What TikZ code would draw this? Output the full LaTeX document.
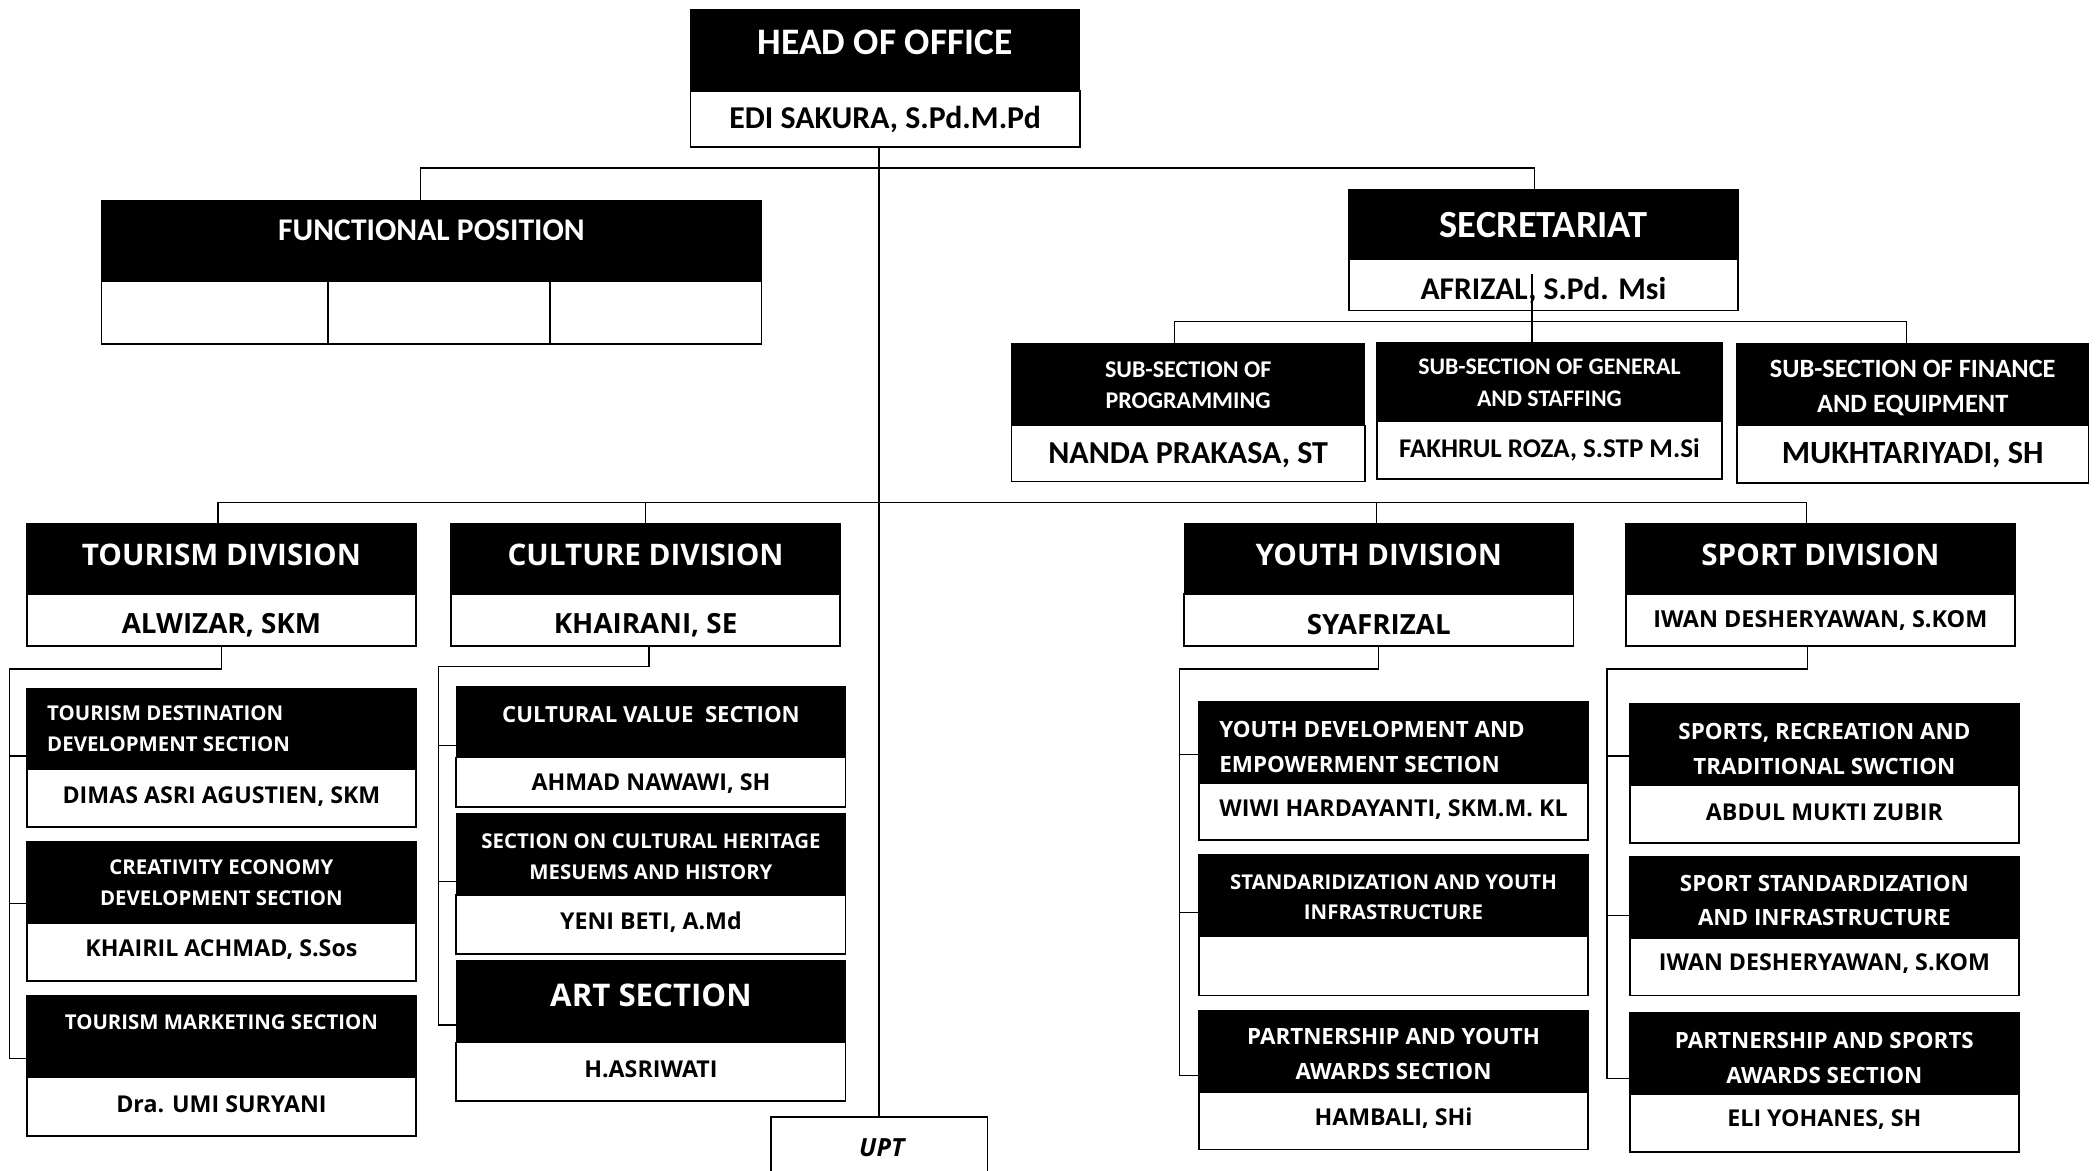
\documentclass[tikz,border=0pt]{standalone}
\usepackage{fontspec}
\setmainfont{Open Sans}
\newfontfamily\cbf{Carlito}
\newfontfamily\osf{Open Sans}
\usetikzlibrary{fit,calc}
\newcommand\fz[2]{\fontsize{#1}{#2}\selectfont}
\begin{document}
\begin{tikzpicture}[x=0.669pt,y=-0.669pt,
 blk/.style={draw=black,fill=black,inner sep=0pt,line width=0.6pt},
 wht/.style={draw=black,fill=white,inner sep=0pt,line width=0.8pt},
 ln/.style={draw=black,line width=0.6pt},
 hd/.style={text=white,inner sep=0pt,align=center},
 nm/.style={text=black,inner sep=0pt,align=center},
 dvT/.style={hd,font=\osf\bfseries\fz{14.85}{17}},
 dvN/.style={nm,font=\osf\bfseries\fz{13.9}{16}},
 scT/.style={hd,font=\osf\bfseries\fz{10.2}{15.4}},
 scTb/.style={hd,font=\osf\bfseries\fz{11.2}{17.4}},
 scN/.style={nm,font=\osf\bfseries\fz{11.6}{14}}]
\useasboundingbox (0,0) rectangle (1568,875);
\clip (0,0) rectangle (1568,875);
% ---- head
\node[blk,fit={(516,7)(807,68)}] (headB) {};
\node[wht,fit={(516,68)(807,110)}] (headW) {};
\node[hd,font=\cbf\bfseries\fz{18.7}{22}] (headT) at (661.5,32) {HEAD OF OFFICE};
\node[nm,font=\cbf\bfseries\fz{15.9}{18}] (headN) at (661.5,89) {EDI SAKURA, S.Pd.M.Pd};
% ---- functional
\node[blk,fit={(76,150)(569,210)}] (funcB) {};
\node[wht,fit={(76,210)(245,257)}] (funcC1) {};
\node[wht,fit={(245,210)(411,257)}] (funcC2) {};
\node[wht,fit={(411,210)(569,257)}] (funcC3) {};
\node[hd,font=\cbf\bfseries\fz{15.8}{18}] (funcT) at (322.5,172) {FUNCTIONAL POSITION};
% ---- secretariat
\node[blk,fit={(1008,142)(1299,194)}] (secB) {};
\node[wht,fit={(1008,194)(1299,232)}] (secW) {};
\node[hd,font=\cbf\bfseries\fz{19.2}{22}] (secT) at (1153.5,168) {SECRETARIAT};
\node[nm,font=\cbf\bfseries\fz{15.8}{18}] (secN) at (1153.5,217) {AFRIZAL, S.Pd. Msi};
% ---- sub-sections
\node[blk,fit={(756,257)(1020,318)}] (progB) {};
\node[wht,fit={(756,318)(1020,360)}] (progW) {};
\node[hd,font=\cbf\bfseries\fz{12}{15.5}] (progT) at (888,288) {SUB-SECTION OF\\PROGRAMMING};
\node[nm,font=\cbf\bfseries\fz{16}{18}] (progN) at (888,340) {NANDA PRAKASA, ST};
\node[blk,fit={(1029,256)(1287,315)}] (genB) {};
\node[wht,fit={(1029,315)(1287,358)}] (genW) {};
\node[hd,font=\cbf\bfseries\fz{11.9}{16.2}] (genT) at (1158,286) {SUB-SECTION OF GENERAL\\AND STAFFING};
\node[nm,font=\cbf\bfseries\fz{13.5}{16}] (genN) at (1158,336) {FAKHRUL ROZA, S.STP M.Si};
\node[blk,fit={(1298,257)(1561,318)}] (finB) {};
\node[wht,fit={(1298,318)(1561,361)}] (finW) {};
\node[hd,font=\cbf\bfseries\fz{13.2}{17.4}] (finT) at (1429.5,290) {SUB-SECTION OF FINANCE\\AND EQUIPMENT};
\node[nm,font=\cbf\bfseries\fz{16.2}{18}] (finN) at (1429.5,340) {MUKHTARIYADI, SH};
% ---- divisions
\node[blk,fit={(20,391)(311,444)}] (tourB) {};
\node[wht,fit={(20,444)(311,483)}] (tourW) {};
\node[dvT] (tourT) at (165.5,415) {TOURISM DIVISION};
\node[dvN] (tourN) at (165.5,467) {ALWIZAR, SKM};
\node[blk,fit={(337,391)(628,444)}] (cultB) {};
\node[wht,fit={(337,444)(628,483)}] (cultW) {};
\node[dvT] (cultT) at (482.5,415) {CULTURE DIVISION};
\node[dvN] (cultN) at (482.5,467) {KHAIRANI, SE};
\node[blk,fit={(885,391)(1176,444)}] (youthB) {};
\node[wht,fit={(885,444)(1176,483)}] (youthW) {};
\node[dvT] (youthT) at (1030.5,415) {YOUTH DIVISION};
\node[dvN] (youthN) at (1030.5,467) {SYAFRIZAL};
\node[blk,fit={(1215,391)(1506,444)}] (sportB) {};
\node[wht,fit={(1215,444)(1506,483)}] (sportW) {};
\node[dvT] (sportT) at (1360.5,415) {SPORT DIVISION};
\node[nm,font=\osf\bfseries\fz{11.7}{14}] (sportN) at (1360.5,464) {IWAN DESHERYAWAN, S.KOM};
% ---- tourism sections
\node[blk,fit={(20,515)(311,575)}] (ts1B) {};
\node[wht,fit={(20,575)(311,618)}] (ts1W) {};
\node[scT,align=left,anchor=west] (ts1T) at (35,544.5) {TOURISM DESTINATION\\DEVELOPMENT SECTION};
\node[scN] (ts1N) at (165.5,595) {DIMAS ASRI AGUSTIEN, SKM};
\node[blk,fit={(20,629)(311,690)}] (ts2B) {};
\node[wht,fit={(20,690)(311,733)}] (ts2W) {};
\node[scT] (ts2T) at (165.5,659.5) {CREATIVITY ECONOMY\\DEVELOPMENT SECTION};
\node[scN] (ts2N) at (165.5,710) {KHAIRIL ACHMAD, S.Sos};
\node[blk,fit={(20,744)(311,805)}] (ts3B) {};
\node[wht,fit={(20,805)(311,849)}] (ts3W) {};
\node[scT] (ts3T) at (165.5,764) {TOURISM MARKETING SECTION};
\node[scN] (ts3N) at (165.5,825) {Dra. UMI SURYANI};
% ---- culture sections
\node[blk,fit={(341,513)(632,566)}] (cs1B) {};
\node[wht,fit={(341,566)(632,603)}] (cs1W) {};
\node[hd,font=\osf\bfseries\fz{11.1}{14}] (cs1T) at (486.5,534) {CULTURAL VALUE\ \ SECTION};
\node[scN] (cs1N) at (486.5,586) {AHMAD NAWAWI, SH};
\node[blk,fit={(341,608)(632,669)}] (cs2B) {};
\node[wht,fit={(341,669)(632,713)}] (cs2W) {};
\node[scT] (cs2T) at (486.5,640.5) {SECTION ON CULTURAL HERITAGE\\MESUEMS AND HISTORY};
\node[scN] (cs2N) at (486.5,689) {YENI BETI, A.Md};
\node[blk,fit={(341,718)(632,779)}] (cs3B) {};
\node[wht,fit={(341,779)(632,823)}] (cs3W) {};
\node[hd,font=\osf\bfseries\fz{15.6}{18}] (cs3T) at (486.5,744) {ART SECTION};
\node[scN] (cs3N) at (486.5,799) {H.ASRIWATI};
% ---- UPT
\node[wht,fit={(576,835)(738,900)}] (upt) {};
\node[nm,font=\osf\bfseries\itshape\fz{12.5}{15}] (uptT) at (659,858) {UPT};
% ---- youth sections
\node[blk,fit={(896,524)(1187,585)}] (ys1B) {};
\node[wht,fit={(896,585)(1187,628)}] (ys1W) {};
\node[scTb,align=left,anchor=west] (ys1T) at (911,558) {YOUTH DEVELOPMENT AND\\EMPOWERMENT SECTION};
\node[scN] (ys1N) at (1041.5,605) {WIWI HARDAYANTI, SKM.M. KL};
\node[blk,fit={(896,639)(1187,700)}] (ys2B) {};
\node[wht,fit={(896,700)(1187,744)}] (ys2W) {};
\node[scT] (ys2T) at (1041.5,670.5) {STANDARIDIZATION AND YOUTH\\INFRASTRUCTURE};
\node[blk,fit={(896,755)(1187,816)}] (ys3B) {};
\node[wht,fit={(896,816)(1187,859)}] (ys3W) {};
\node[scTb] (ys3T) at (1041.5,788) {PARTNERSHIP AND YOUTH\\AWARDS SECTION};
\node[scN] (ys3N) at (1041.5,836) {HAMBALI, SHi};
% ---- sport sections
\node[blk,fit={(1218,526)(1509,587)}] (ss1B) {};
\node[wht,fit={(1218,587)(1509,630)}] (ss1W) {};
\node[scTb] (ss1T) at (1363.5,560) {SPORTS, RECREATION AND\\TRADITIONAL SWCTION};
\node[scN] (ss1N) at (1363.5,607) {ABDUL MUKTI ZUBIR};
\node[blk,fit={(1218,640)(1509,701)}] (ss2B) {};
\node[wht,fit={(1218,701)(1509,744)}] (ss2W) {};
\node[scTb] (ss2T) at (1363.5,673) {SPORT STANDARDIZATION\\AND INFRASTRUCTURE};
\node[scN] (ss2N) at (1363.5,720) {IWAN DESHERYAWAN, S.KOM};
\node[blk,fit={(1218,757)(1509,818)}] (ss3B) {};
\node[wht,fit={(1218,818)(1509,861)}] (ss3W) {};
\node[scTb] (ss3T) at (1363.5,790.5) {PARTNERSHIP AND SPORTS\\AWARDS SECTION};
\node[scN] (ss3N) at (1363.5,837) {ELI YOHANES, SH};
% ---- connectors
\draw[ln] (upt.north |- headW.south) -- (upt.north);
\draw[ln] ($(funcB.north)+(-8.5,0)$) -- ++(0,-24) -| ($(secB.north)+(-6.5,0)$);
\coordinate (sbar) at (1145,241);
\draw[ln] ($(secW.center)+(-8.5,-8)$) -- (sbar) -- ($(genB.north)+(-13,0)$);
\draw[ln] ($(progB.north)+(-10,0)$) |- ($(finB.north)+(-4.5,-16)$) -- ($(finB.north)+(-4.5,0)$);
\draw[ln] ($(tourB.north)+(-2.5,0)$) |- ($(sportB.north)+(-10.5,-15)$) -- ($(sportB.north)+(-10.5,0)$);
\draw[ln] (cultB.north) -- ++(0,-15);
\draw[ln] ($(youthB.north)+(-1.5,0)$) -- ++(0,-15);
% tourism
\coordinate (tl) at (7,500);
\draw[ln] (tourW.south) |- (tl) -- (7,791) -- (ts3B.west |- 7,791);
\draw[ln] (7,565) -- (ts1B.west |- 7,565);
\draw[ln] (7,675) -- (ts2B.west |- 7,675);
% culture
\coordinate (cl) at (328,498);
\draw[ln] ($(cultW.south)+(2.5,0)$) |- (cl) -- (328,766) -- (cs3B.west |- 328,766);
\draw[ln] (328,557) -- (cs1B.west |- 328,557);
\draw[ln] (328,659) -- (cs2B.west |- 328,659);
% youth
\coordinate (yl) at (881.5,500);
\draw[ln] (youthW.south) |- (yl) -- (881.5,804) -- (ys3B.west |- 881.5,804);
\draw[ln] (881.5,564) -- (ys1B.west |- 881.5,564);
\draw[ln] (881.5,682) -- (ys2B.west |- 881.5,682);
% sport
\coordinate (sl) at (1201,500);
\draw[ln] ($(sportW.south)+(-9.5,0)$) |- (sl) -- (1201,806) -- (ss3B.west |- 1201,806);
\draw[ln] (1201,565) -- (ss1B.west |- 1201,565);
\draw[ln] (1201,684) -- (ss2B.west |- 1201,684);
\end{tikzpicture}
\end{document}
